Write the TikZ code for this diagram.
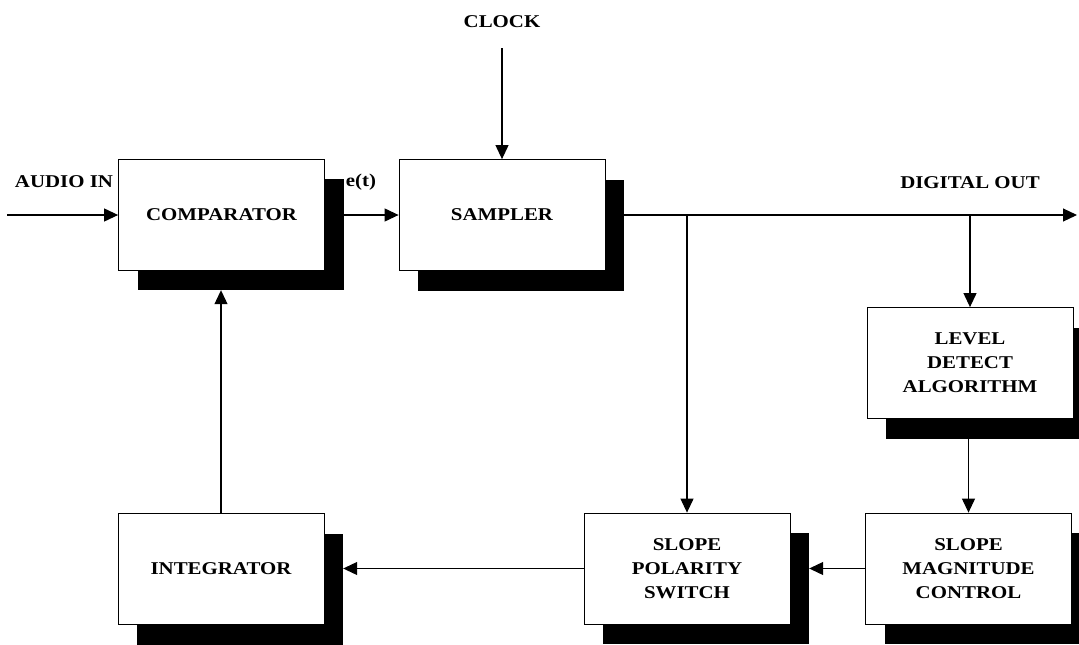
\documentclass[tikz,border=0pt]{standalone}
\usepackage{fontspec}
\setmainfont{Liberation Serif}[FakeStretch=1.16]
\usetikzlibrary{arrows.meta}
\tikzset{
  box/.style={draw, fill=white, line width=0.8pt, minimum width=206pt, minimum height=111pt, inner sep=0pt, align=center},
  shade/.style={fill=black, minimum width=206pt, minimum height=111pt, inner sep=0pt},
  lbl/.style={inner sep=0pt},
  arr/.style={line width=1.1pt, -{Triangle[length=14pt,width=13pt]}},
}
\begin{document}
\begin{tikzpicture}[x=1pt,y=-1pt, font=\bfseries\fontsize{18}{24}\selectfont]
\useasboundingbox (0,0) rectangle (1079,645);
\clip (0,0) rectangle (1079,645);
% shadows
\node[shade] (compS) at (240.5,234.5) {};
\node[shade] (sampS) at (521,235) {};
\node[shade] (levelS) at (989,383) {};
\node[shade] (magS) at (987.5,588.5) {};
\node[shade] (polS) at (706,588.5) {};
\node[shade] (intS) at (240,589.5) {};
% boxes
\node[box] (comp) at (221.5,214.5) {COMPARATOR};
\node[box] (samp) at (502,215) {SAMPLER};
\node[box] (level) at (970,363) {LEVEL\\DETECT\\ALGORITHM};
\node[box] (mag) at (968.5,568.5) {SLOPE\\MAGNITUDE\\CONTROL};
\node[box] (pol) at (687,568.5) {SLOPE\\POLARITY\\SWITCH};
\node[box] (int) at (221,569) {INTEGRATOR};
% labels
\node[lbl] (audio) at (64,182) {AUDIO IN};
\node[lbl] (et) at (361,182) {e(t)};
\node[lbl] (clock) at (502,22) {CLOCK};
\node[lbl] (dout) at (970,183) {DIGITAL OUT};
% free ends
\coordinate (ain) at (7,215);
\coordinate (clk) at (502,48);
\coordinate (dend) at (1077,215);
% connectors
\draw[arr] (ain) -- (comp.west |- ain);
\draw[arr] (compS.east |- samp.west) -- (samp.west);
\draw[arr] (clk) -- (samp.north);
\draw[arr] (sampS.east |- samp.east) -- (dend);
\draw[arr] (pol.north |- samp.east) -- (pol.north);
\draw[arr] (level.north |- samp.east) -- (level.north);
\draw[arr] (mag.north |- levelS.south) -- (mag.north);
\draw[arr] (mag.west) -- (polS.east |- mag.west);
\draw[arr] (pol.west) -- (intS.east |- pol.west);
\draw[arr] (int.north) -- (int.north |- compS.south);
\end{tikzpicture}
\end{document}
